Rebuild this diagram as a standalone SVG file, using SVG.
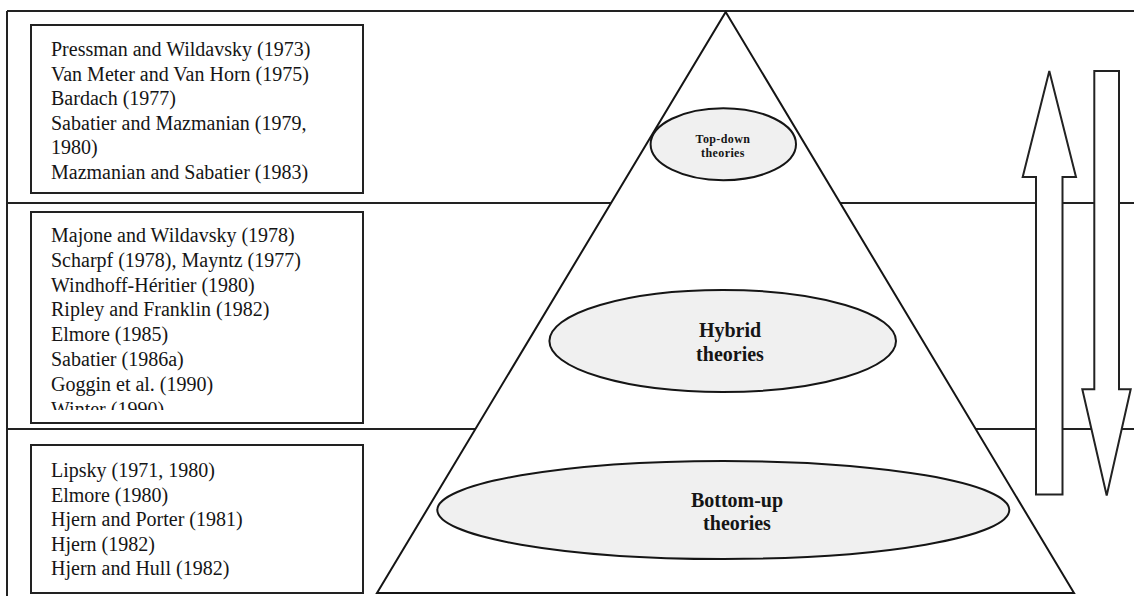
<svg xmlns="http://www.w3.org/2000/svg" width="1134" height="596" viewBox="0 0 1134 596">
<style>
.frame{stroke:#222;stroke-width:2;fill:none}
.box{stroke:#222;stroke-width:2;fill:#fff}
.ref{font-family:"Liberation Serif","Times New Roman",serif;font-size:20px;fill:#151515}
.ell{stroke:#151515;stroke-width:2;fill:#f0f0f0}
.lbl{font-family:"Liberation Serif","Times New Roman",serif;font-weight:bold;font-size:20px;fill:#151515;text-anchor:middle}
.lbls{font-family:"Liberation Serif","Times New Roman",serif;font-weight:bold;font-size:12px;letter-spacing:0.4px;fill:#151515;text-anchor:middle}
.arrow{stroke:#222;stroke-width:2;fill:#fff;stroke-linejoin:miter}
</style>
<defs>
<clipPath id="clip2"><rect x="32" y="213" width="330" height="197"/></clipPath>
</defs>
<rect width="1134" height="596" fill="#fff"/>
<g id="frame" class="frame">
<line x1="7" y1="11" x2="1134" y2="11"/>
<line x1="7" y1="11" x2="7" y2="596"/>
<line x1="7" y1="203" x2="1134" y2="203"/>
<line x1="7" y1="429" x2="1134" y2="429"/>
</g>
<g id="box-topdown">
<rect class="box" x="31" y="25" width="332" height="168"/>
<text class="ref" x="51" y="56">Pressman and Wildavsky (1973)</text>
<text class="ref" x="51" y="80.5">Van Meter and Van Horn (1975)</text>
<text class="ref" x="51" y="105">Bardach (1977)</text>
<text class="ref" x="51" y="129.5">Sabatier and Mazmanian (1979,</text>
<text class="ref" x="51" y="154">1980)</text>
<text class="ref" x="51" y="178.5">Mazmanian and Sabatier (1983)</text>
</g>
<g id="box-hybrid">
<rect class="box" x="31" y="212" width="332" height="211"/>
<g clip-path="url(#clip2)">
<text class="ref" x="51" y="242">Majone and Wildavsky (1978)</text>
<text class="ref" x="51" y="266.8">Scharpf (1978), Mayntz (1977)</text>
<text class="ref" x="51" y="291.6">Windhoff-Héritier (1980)</text>
<text class="ref" x="51" y="316.4">Ripley and Franklin (1982)</text>
<text class="ref" x="51" y="341.2">Elmore (1985)</text>
<text class="ref" x="51" y="366">Sabatier (1986a)</text>
<text class="ref" x="51" y="390.8">Goggin et al. (1990)</text>
<text class="ref" x="51" y="415.6">Winter (1990)</text>
</g>
</g>
<g id="box-bottomup">
<rect class="box" x="31" y="445" width="332" height="148"/>
<text class="ref" x="51" y="477">Lipsky (1971, 1980)</text>
<text class="ref" x="51" y="501.6">Elmore (1980)</text>
<text class="ref" x="51" y="526.2">Hjern and Porter (1981)</text>
<text class="ref" x="51" y="550.8">Hjern (1982)</text>
<text class="ref" x="51" y="575.4">Hjern and Hull (1982)</text>
</g>
<g id="pyramid">
<polygon points="725.7,12 1074,593 377,593" fill="#fff" stroke="#151515" stroke-width="2" stroke-linejoin="miter"/>
</g>
<g id="node-topdown">
<ellipse class="ell" cx="723.3" cy="144.2" rx="72.7" ry="36"/>
<text class="lbls" x="723" y="142.5">Top-down</text>
<text class="lbls" x="723" y="157">theories</text>
</g>
<g id="node-hybrid">
<ellipse class="ell" cx="722.7" cy="341" rx="173.3" ry="51"/>
<text class="lbl" x="730" y="337">Hybrid</text>
<text class="lbl" x="730" y="361">theories</text>
</g>
<g id="node-bottomup">
<ellipse class="ell" cx="723.3" cy="510" rx="286" ry="49"/>
<text class="lbl" x="737" y="507">Bottom-up</text>
<text class="lbl" x="737" y="530">theories</text>
</g>
<g id="connectors">
<polygon class="arrow" points="1049.3,71 1076,177 1062.5,177 1062.5,494.5 1036,494.5 1036,177 1022.7,177"/>
<polygon class="arrow" points="1094.3,71 1119,71 1119,389.3 1130.7,389.3 1106.7,495.5 1082.3,389.3 1094.3,389.3"/>
</g>
</svg>
